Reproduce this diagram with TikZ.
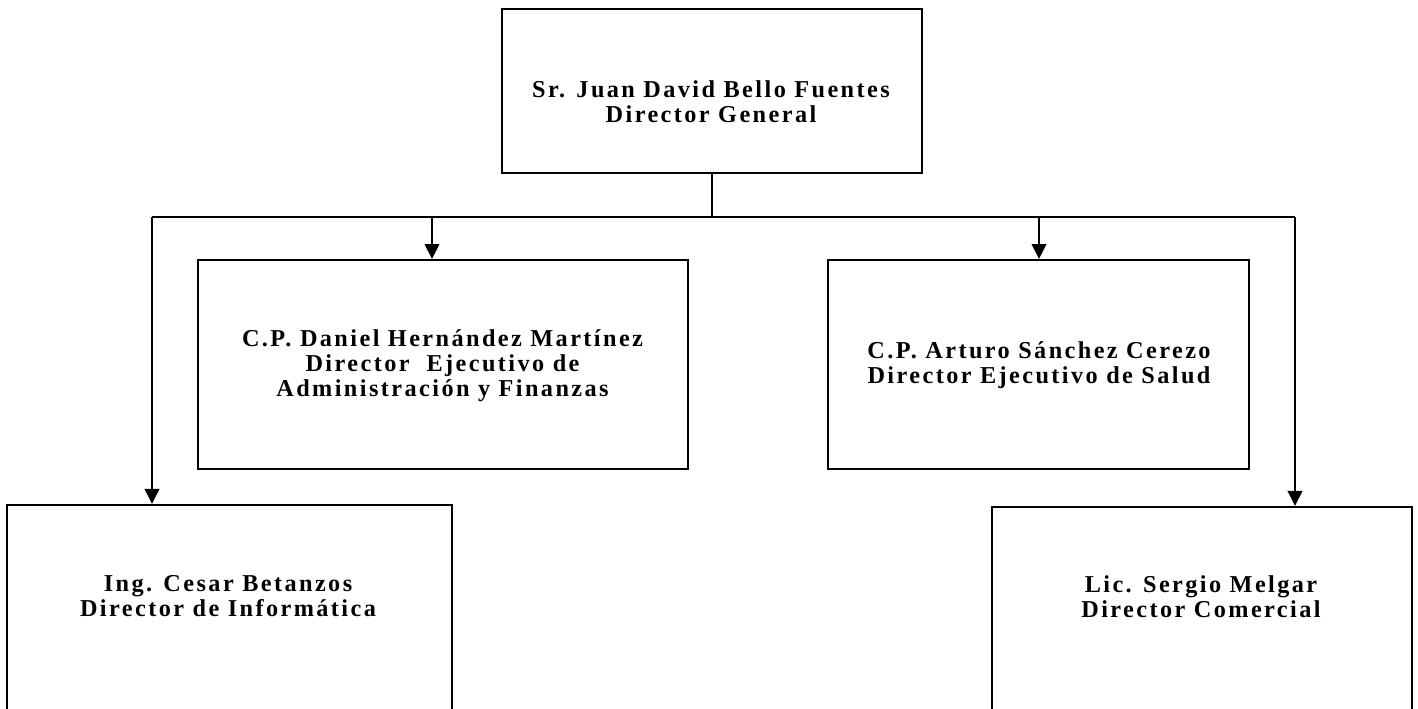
\documentclass[tikz,border=0pt]{standalone}
\usepackage{fontspec}
\setmainfont{Liberation Serif}[LetterSpace=10]
\usetikzlibrary{arrows.meta,positioning}

\tikzset{
  cargo/.style={draw, line width=1.1pt, minimum width=#1, inner sep=0pt},
  nombre/.style={font=\bfseries\fontsize{13.8}{14.3}\selectfont, align=center, inner sep=0pt},
  linea/.style={line width=1.1pt},
  flecha/.style={line width=1.1pt, -{Triangle[width=0.29cm,length=0.3cm]}}
}

\begin{document}
\begin{tikzpicture}
    \useasboundingbox (0,0) rectangle (28.36,-14.18);
    \clip (0,0) rectangle (28.36,-14.18);

    % cajas
    \node [cargo=8.4cm, minimum height=3.28cm] (gen) at (14.24,-1.82) {};
    \node [cargo=9.8cm, minimum height=4.18cm] (adm) at (8.86,-7.29) {};
    \node [cargo=8.42cm, minimum height=4.18cm] (sal) at (20.77,-7.29) {};
    \node [cargo=8.9cm, minimum height=5cm, anchor=north] (inf) at (4.59,-10.08) {};
    \node [cargo=8.4cm, minimum height=5cm, anchor=north] (com) at (24.04,-10.12) {};

    % textos
    \node [nombre] (tgen) at (14.22,-2.04) {Sr. Juan David Bello Fuentes\\Director General};
    \node [nombre] (tadm) at (8.85,-7.32) {C.P. Daniel Hernández Martínez\\Director\ \ Ejecutivo de\\Administración y Finanzas};
    \node [nombre] (tsal) at (20.78,-7.3) {C.P. Arturo Sánchez Cerezo\\Director Ejecutivo de Salud};
    \node [nombre] (tinf) at (4.56,-11.93) {Ing. Cesar Betanzos\\Director de Informática};
    \node [nombre] (tcom) at (24.02,-11.94) {Lic. Sergio Melgar\\Director Comercial};

    % lineas
    \coordinate (busL) at (3.04,-4.34);
    \coordinate (busR) at (25.9,-4.34);
    \coordinate (tapA) at (8.64,-4.34);
    \coordinate (tapS) at (20.78,-4.34);

    \draw [linea] (gen.south) -- (gen.south |- busL);
    \draw [linea] (busL) -- (busR);
    \draw [flecha] (busL) -- (busL |- inf.north);
    \draw [flecha] (busR) -- (busR |- com.north);
    \draw [flecha] (tapA) -- (tapA |- adm.north);
    \draw [flecha] (tapS) -- (tapS |- sal.north);
\end{tikzpicture}
\end{document}
